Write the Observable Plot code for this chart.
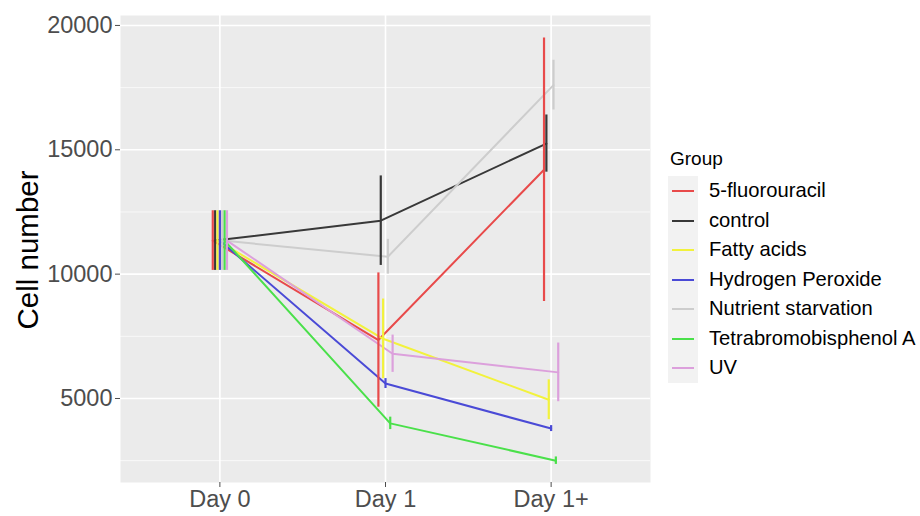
<!DOCTYPE html>
<html>
<head>
<meta charset="utf-8">
<script src="https://cdn.jsdelivr.net/npm/d3@7"></script>
<script src="https://cdn.jsdelivr.net/npm/@observablehq/plot@0.6"></script>
<style>
  html, body { margin: 0; padding: 0; background: white; }
  #wrap { position: relative; width: 920px; height: 516px; font-family: "Liberation Sans", Arial, sans-serif; }
  #chart { position: absolute; left: 0; top: 0; }
  #ylab { position: absolute; left: 28px; top: 250px; transform: translate(-50%, -50%) rotate(-90deg); font-size: 29.5px; color: #000; white-space: nowrap; }
  #legend { position: absolute; left: 668px; top: 148px; color: #000; }
  #legend .title { font-size: 19px; margin-bottom: 6px; margin-left: 2px; }
  #legend .row { display: flex; align-items: center; height: 29.5px; }
  #legend .key { width: 30px; height: 29.5px; background: #F2F2F2; position: relative; box-sizing: border-box; }
  #legend .key span { position: absolute; left: 4px; right: 4px; top: 14px; height: 2px; }
  #legend .lab { font-size: 20.2px; margin-left: 11px; white-space: nowrap; }
</style>
</head>
<body>
<div id="wrap">
  <div id="chart"></div>
  <div id="ylab">Cell number</div>
  <div id="legend"></div>
</div>
<script>
// ---- data ----
const days = ["Day 0", "Day 1", "Day 1+"];
const groups = ["5-fluorouracil", "control", "Fatty acids", "Hydrogen Peroxide", "Nutrient starvation", "Tetrabromobisphenol A", "UV"];
const colors = ["#e84a4a", "#383838", "#f2f23c", "#4a4ad6", "#cdcdcd", "#4ae04a", "#dca0dc"];
// mean cell number per group, for Day 0, Day 1, Day 1+
const mean5FU      = [11350, 7350, 14200];
const meanControl  = [11350, 12150, 15250];
const meanFatty    = [11350, 7400, 4950];
const meanH2O2     = [11350, 5600, 3790];
const meanNutrient = [11350, 10700, 17600];
const meanTBBPA    = [11350, 4000, 2500];
const meanUV       = [11350, 6800, 6050];
// error (half-length of error bars)
const err5FU      = [1200, 2700, 5300];
const errControl  = [1200, 1800, 1150];
const errFatty    = [1200, 1600, 800];
const errH2O2     = [1200, 200, 120];
const errNutrient = [1200, 700, 1000];
const errTBBPA    = [1200, 250, 150];
const errUV       = [1200, 750, 1180];
const yTicks = [5000, 10000, 15000, 20000];
const yMinor = [2500, 7500, 12500, 17500];

const means = [mean5FU, meanControl, meanFatty, meanH2O2, meanNutrient, meanTBBPA, meanUV];
const errs = [err5FU, errControl, errFatty, errH2O2, errNutrient, errTBBPA, errUV];

const dodge = 0.1;
const rows = [];
groups.forEach((g, gi) => {
  days.forEach((d, di) => {
    const m = means[gi][di], e = errs[gi][di];
    rows.push({group: g, day: d, xp: di + (gi - (groups.length - 1) / 2) * dodge / groups.length, mean: m, lo: m - e, hi: m + e});
  });
});

const plot = Plot.plot({
  width: 920,
  height: 516,
  marginLeft: 120,
  marginRight: 270,
  marginTop: 15,
  marginBottom: 34,
  style: {fontFamily: "'Liberation Sans', Arial, sans-serif", background: "white"},
  x: {domain: [-0.6, 2.6]},
  y: {domain: [1622, 20400]},
  color: {domain: groups, range: colors},
  marks: [
    Plot.frame({fill: "#EBEBEB", stroke: null}),
    Plot.ruleY(yMinor, {stroke: "white", strokeWidth: 0.7}),
    Plot.ruleY(yTicks, {stroke: "white", strokeWidth: 1.6}),
    Plot.ruleX([0, 1, 2], {stroke: "white", strokeWidth: 1.6}),
    Plot.line(rows, {x: "xp", y: "mean", z: "group", stroke: "group", strokeWidth: 2}),
    Plot.ruleX(rows, {x: "xp", y1: "lo", y2: "hi", stroke: "group", strokeWidth: 2.2}),
    Plot.axisX([0, 1, 2], {tickFormat: i => days[i], label: null, fontSize: 23.5, color: "#4D4D4D", tickSize: 5, tickPadding: 3}),
    Plot.axisY(yTicks, {tickFormat: d => String(d), label: null, fontSize: 23.5, color: "#4D4D4D", tickSize: 5, tickPadding: 3})
  ]
});
document.getElementById("chart").appendChild(plot);

// legend
const leg = d3.select("#legend");
leg.append("div").attr("class", "title").text("Group");
groups.forEach((g, i) => {
  const r = leg.append("div").attr("class", "row");
  r.append("div").attr("class", "key").append("span").style("background", colors[i]);
  r.append("div").attr("class", "lab").text(g);
});
</script>
</body>
</html>
